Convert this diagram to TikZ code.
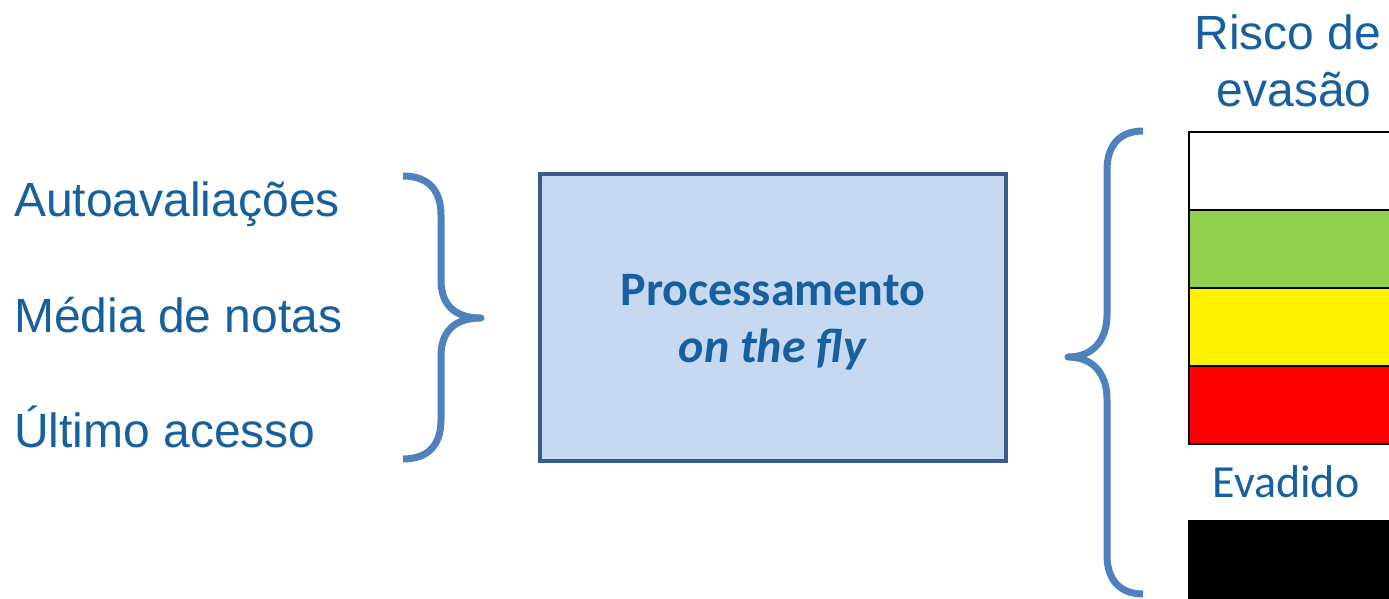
\documentclass[tikz,border=0pt]{standalone}
\usepackage{fontspec}
\setmainfont{Liberation Sans}
\newfontfamily\calibri{Carlito}
\usetikzlibrary{positioning}
\definecolor{txtblue}{RGB}{23,96,160}
\definecolor{bracecol}{RGB}{79,129,189}
\definecolor{boxfill}{RGB}{198,217,240}
\definecolor{boxline}{RGB}{56,93,138}
\definecolor{lowgreen}{RGB}{146,208,80}

\begin{document}
\begin{tikzpicture}[x=1pt,y=-1pt,
	input/.style={anchor=base west,inner sep=0pt,text=txtblue,font=\fontsize{48}{57}\selectfont},
	title/.style={anchor=base,inner sep=0pt,text=txtblue,font=\fontsize{48}{57}\selectfont},
	brace/.style={draw=bracecol,line width=7pt,line join=round},
	level/.style={draw=black,line width=2pt,minimum width=210pt,minimum height=78pt,anchor=north west,inner sep=0pt}]
	\useasboundingbox (0,0) rectangle (1389,599);

	% entradas
	\node[input] (auto)   at (14,216) {Autoavaliações};
	\node[input] (media)  at (14,332) {Média de notas};
	\node[input] (ultimo) at (14,447) {Último acesso};
	\draw[brace] (403,176) .. controls (428,176) and (441,190) .. (441,215) -- (441,280)
		.. controls (441,305) and (455,318) .. (481,318)
		.. controls (455,318) and (441,331) .. (441,356) -- (441,420)
		.. controls (441,445) and (428,459) .. (403,459);

	% processamento
	\node[draw=boxline,fill=boxfill,line width=4pt,minimum width=466pt,minimum height=287pt] (proc) at (773,317.5) {};
	\node[align=center,text=txtblue,font=\calibri\fontsize{48}{57}\selectfont] (proctext) at ([yshift=-5pt]proc.center)
		{\textbf{Processamento}\\\textbf{\textit{on the fly}}};

	% saida
	\draw[brace] (1143,131) .. controls (1120,131) and (1107,145) .. (1107,170) -- (1107,315)
		.. controls (1107,340) and (1093,357) .. (1068,357)
		.. controls (1093,357) and (1107,374) .. (1107,399) -- (1107,555)
		.. controls (1107,580) and (1120,594) .. (1143,594);
	\node[title] (risco)  at (1288,50)  {Risco de};
	\node[title] (evasao) at (1294,107) {evasão};
	\foreach \c [count=\i] in {white,lowgreen,yellow,red}
		\node[level,fill=\c] (lvl\i) at (1188,{131+(\i-1)*78}) {};
	\node[anchor=base,inner sep=0pt,text=txtblue,font=\calibri\fontsize{46}{55}\selectfont] (evlabel) at (1286,497) {Evadido};
	\node[level,fill=black] (evbar) at (1188,520) {};
\end{tikzpicture}
\end{document}
